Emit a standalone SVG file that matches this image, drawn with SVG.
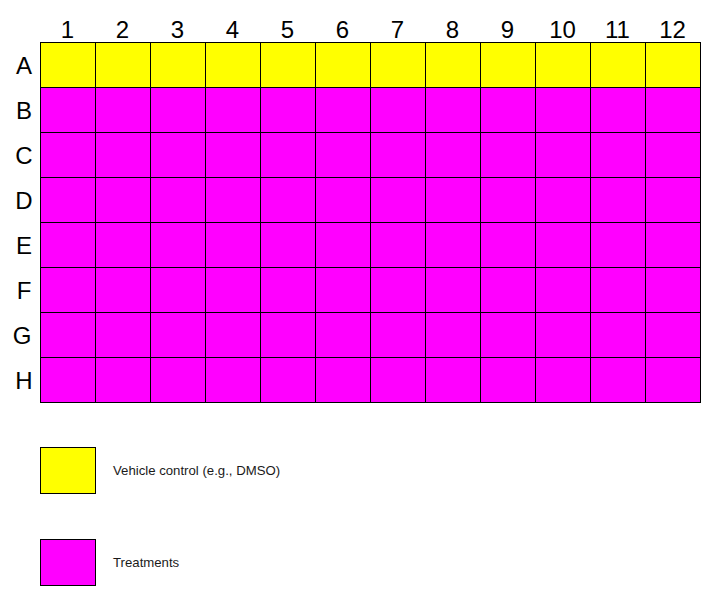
<svg xmlns="http://www.w3.org/2000/svg" width="724" height="611" viewBox="0 0 724 611">
<style>
.y{fill:#ffff00;stroke:#000;stroke-width:1}
.m{fill:#ff00ff;stroke:#000;stroke-width:1}
.lbl{font-family:"Liberation Sans",Arial,sans-serif;font-size:24px;fill:#000;text-anchor:middle}
.leg{font-family:"Liberation Sans",Arial,sans-serif;font-size:13.2px;fill:#1a1a1a}
</style>
<rect width="724" height="611" fill="#fff"/>
<g id="col-labels" class="lbl">
<text x="67.5" y="38">1</text><text x="122.5" y="38">2</text><text x="177.5" y="38">3</text><text x="232.5" y="38">4</text><text x="287.5" y="38">5</text><text x="342.5" y="38">6</text><text x="397.5" y="38">7</text><text x="452.5" y="38">8</text><text x="507.5" y="38">9</text><text x="562.5" y="38">10</text><text x="617.5" y="38">11</text><text x="672.5" y="38">12</text>
</g>
<g id="row-labels" class="lbl">
<text x="24" y="73.5">A</text><text x="24" y="118.5">B</text><text x="24" y="163.5">C</text><text x="24" y="208.5">D</text><text x="24" y="253.5">E</text><text x="24" y="298.5">F</text><text x="22" y="343.5">G</text><text x="24" y="388.5">H</text>
</g>
<g id="row-A">
<rect class="y" x="40.5" y="42.5" width="55" height="45"/><rect class="y" x="95.5" y="42.5" width="55" height="45"/><rect class="y" x="150.5" y="42.5" width="55" height="45"/><rect class="y" x="205.5" y="42.5" width="55" height="45"/><rect class="y" x="260.5" y="42.5" width="55" height="45"/><rect class="y" x="315.5" y="42.5" width="55" height="45"/><rect class="y" x="370.5" y="42.5" width="55" height="45"/><rect class="y" x="425.5" y="42.5" width="55" height="45"/><rect class="y" x="480.5" y="42.5" width="55" height="45"/><rect class="y" x="535.5" y="42.5" width="55" height="45"/><rect class="y" x="590.5" y="42.5" width="55" height="45"/><rect class="y" x="645.5" y="42.5" width="55" height="45"/>
</g>
<g id="rows-B-H">
<rect class="m" x="40.5" y="87.5" width="660" height="315"/>
<path d="M95.5 87.5V402.5M150.5 87.5V402.5M205.5 87.5V402.5M260.5 87.5V402.5M315.5 87.5V402.5M370.5 87.5V402.5M425.5 87.5V402.5M480.5 87.5V402.5M535.5 87.5V402.5M590.5 87.5V402.5M645.5 87.5V402.5M40.5 132.5H700.5M40.5 177.5H700.5M40.5 222.5H700.5M40.5 267.5H700.5M40.5 312.5H700.5M40.5 357.5H700.5" stroke="#000" stroke-width="1" fill="none"/>
</g>
<g id="legend-vehicle">
<rect class="y" x="40.5" y="447.5" width="55" height="46"/>
<text class="leg" x="113" y="475">Vehicle control (e.g., DMSO)</text>
</g>
<g id="legend-treatments">
<rect class="m" x="40.5" y="539.5" width="55" height="46"/>
<text class="leg" x="113" y="567">Treatments</text>
</g>
</svg>
